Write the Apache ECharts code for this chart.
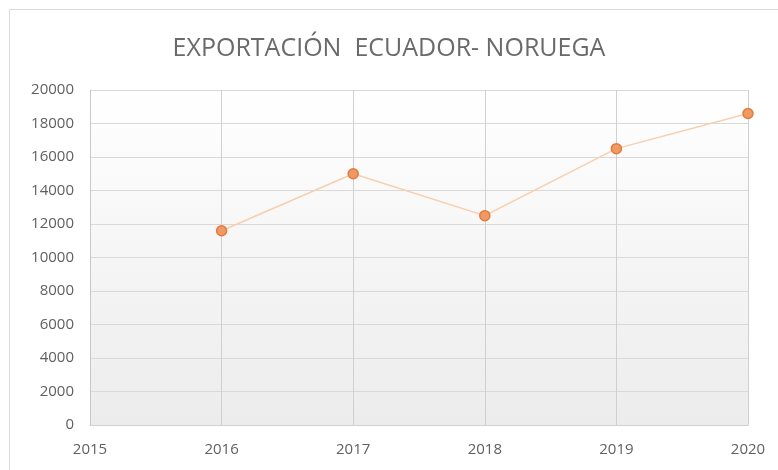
<!DOCTYPE html>
<html>
<head>
<meta charset="utf-8">
<script src="https://cdn.jsdelivr.net/npm/echarts@6/dist/echarts.min.js"></script>
<style>
  html, body { margin: 0; padding: 0; background: #fff; }
  #frame { position: absolute; left: 9px; top: 9px; width: 775px; height: 470px; border: 1px solid #d9d9d9; box-sizing: border-box; }
  #main { width: 778px; height: 470px; }
</style>
</head>
<body>
<div id="frame"></div>
<div id="main"></div>
<script>
var years = [2016, 2017, 2018, 2019, 2020];
var exportValues = [11600, 15000, 12500, 16500, 18600];

var myChart = echarts.init(document.getElementById('main'));

var points = [];
for (var i = 0; i < years.length; i++) {
    points.push([years[i], exportValues[i]]);
}

var textColor = '#606060';
var font = '"Open Sans", sans-serif';

option = {
    title: {
        text: 'EXPORTACIÓN  ECUADOR- NORUEGA',
        left: 'center',
        top: 31,
        textStyle: {
            color: '#6a6a6a',
            fontFamily: font,
            fontWeight: 'normal',
            fontSize: 25
        }
    },
    grid: {
        left: 90,
        right: 30,
        top: 90,
        bottom: 45,
        show: true,
        borderWidth: 0,
        backgroundColor: new echarts.graphic.LinearGradient(0, 0, 0, 1, [
            { offset: 0, color: '#ffffff' },
            { offset: 1, color: '#ececec' }
        ])
    },
    xAxis: {
        type: 'value',
        min: 2015,
        max: 2020,
        interval: 1,
        axisLine: { show: true, lineStyle: { color: '#d0d0d0' } },
        axisTick: { show: false },
        splitLine: { show: true, lineStyle: { color: '#d0d0d0' } },
        axisLabel: {
            color: textColor,
            fontFamily: font,
            fontSize: 15,
            margin: 17,
            formatter: function (v) { return String(v); }
        }
    },
    yAxis: {
        type: 'value',
        min: 0,
        max: 20000,
        interval: 2000,
        axisLine: { show: true, lineStyle: { color: '#c8c8c8' } },
        axisTick: { show: false },
        splitLine: { show: true, lineStyle: { color: '#d9d9d9' } },
        axisLabel: {
            color: textColor,
            fontFamily: font,
            fontSize: 15,
            margin: 16,
            formatter: function (v) { return String(v); }
        }
    },
    series: [
        {
            name: 'Exportación',
            type: 'line',
            data: points,
            symbol: 'circle',
            symbolSize: 10,
            lineStyle: { color: '#f7cfae', width: 1.5 },
            itemStyle: {
                color: '#ee9a64',
                borderColor: '#e57a3c',
                borderWidth: 1.5
            }
        }
    ]
};

myChart.setOption(option);
</script>
</body>
</html>
